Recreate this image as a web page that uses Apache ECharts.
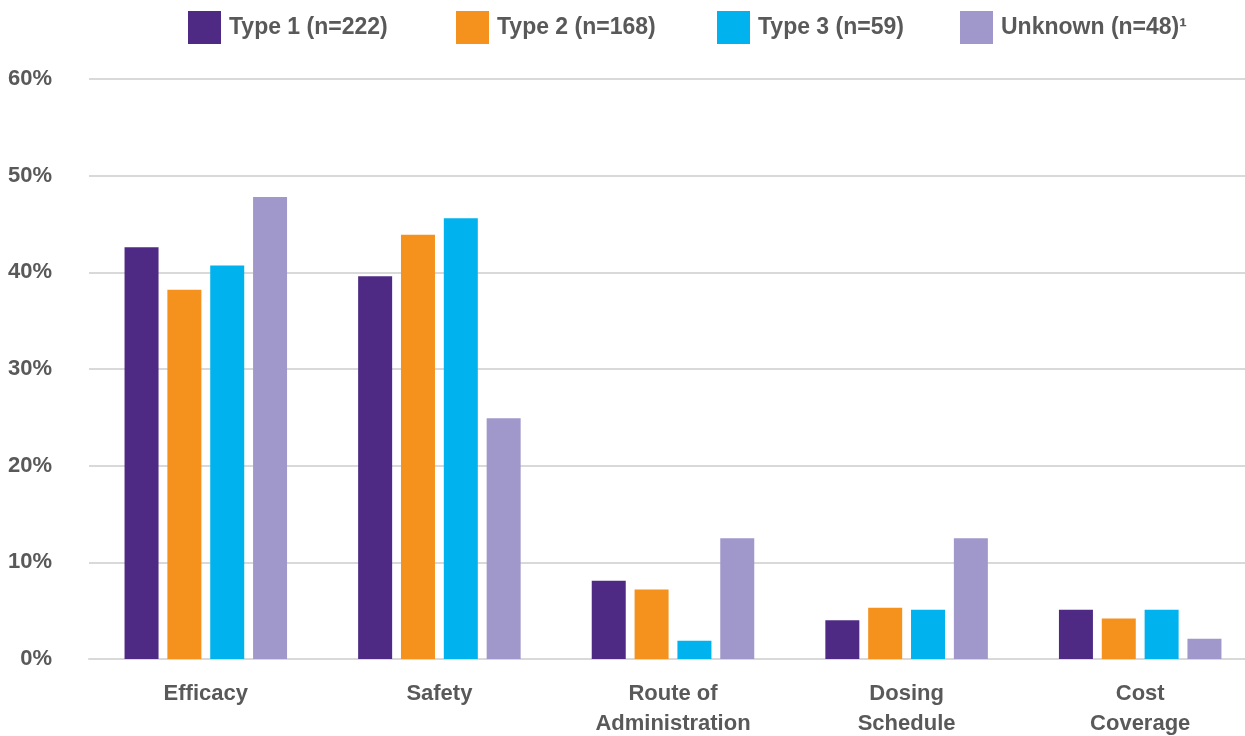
<!DOCTYPE html>
<html>
<head>
<meta charset="utf-8">
<script src="https://cdn.jsdelivr.net/npm/echarts@6/dist/echarts.min.js"></script>
<style>
html,body{margin:0;padding:0;background:#fff;overflow:hidden;}
#chart{width:1245px;height:736px;}
</style>
</head>
<body>
<div id="chart"></div>
<script>
const categories = ['Efficacy', 'Safety', 'Route of\nAdministration', 'Dosing\nSchedule', 'Cost\nCoverage'];
const seriesNames = ['Type 1 (n=222)', 'Type 2 (n=168)', 'Type 3 (n=59)', 'Unknown (n=48)¹'];
const type1 = [42.6, 39.6, 8.1, 4.0, 5.1];
const type2 = [38.2, 43.9, 7.2, 5.3, 4.2];
const type3 = [40.7, 45.6, 1.9, 5.1, 5.1];
const unknown = [47.8, 24.9, 12.5, 12.5, 2.1];
const yTicks = [0, 10, 20, 30, 40, 50, 60];

const colors = ['#4E2A84', '#F5921E', '#00B3EE', '#A098CB'];
const FONT = '"Liberation Sans Narrow", "Arial Narrow", "Liberation Sans", sans-serif';
const TXT = '#595959';
const legendLeft = [188, 456, 717, 960];

const chart = echarts.init(document.getElementById('chart'));
const allData = [type1, type2, type3, unknown];
chart.setOption({
  animation: false,
  color: colors,
  textStyle: { fontFamily: FONT },
  legend: seriesNames.map((n, i) => ({
    left: legendLeft[i], top: 11, padding: 0,
    itemWidth: 33, itemHeight: 33,
    icon: 'rect',
    textStyle: { fontFamily: FONT, fontSize: 23, fontWeight: 'bold', color: TXT, padding: [5, 0, 0, 3] },
    data: [n]
  })),
  grid: { left: 89, top: 79, width: 1168, height: 580, containLabel: false, outerBoundsMode: 'none' },
  xAxis: {
    type: 'category',
    data: categories,
    axisTick: { show: false },
    axisLine: { show: true, lineStyle: { color: '#d9d9d9', width: 2 } },
    axisLabel: { fontFamily: FONT, fontSize: 22, fontWeight: 'bold', color: TXT, margin: 20, lineHeight: 30 }
  },
  yAxis: {
    type: 'value',
    min: yTicks[0], max: yTicks[yTicks.length - 1], interval: 10,
    axisLine: { show: false },
    axisTick: { show: false },
    splitLine: { lineStyle: { color: '#d9d9d9', width: 2 } },
    axisLabel: { formatter: '{value}%', fontFamily: FONT, fontSize: 22, fontWeight: 'bold', color: TXT, margin: 37 }
  },
  series: seriesNames.map((n, i) => ({
    name: n,
    type: 'bar',
    data: allData[i],
    barWidth: 34,
    barGap: '26%'
  }))
});
</script>
</body>
</html>
